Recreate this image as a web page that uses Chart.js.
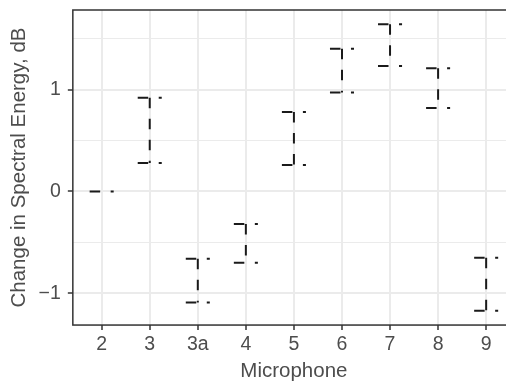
<!DOCTYPE html>
<html>
<head>
<meta charset="utf-8">
<script src="https://cdn.jsdelivr.net/npm/chart.js@4/dist/chart.umd.min.js"></script>
<style>
html, body { margin: 0; padding: 0; background: #fff; overflow: hidden; }
#wrap { width: 516px; height: 383px; position: relative; }
</style>
</head>
<body>
<div id="wrap"><canvas id="errChart"></canvas></div>
<script>
// values
const microphones = ["2", "3", "3a", "4", "5", "6", "7", "8", "9"];
const upper = [0.00, 0.92, -0.66, -0.32, 0.78, 1.40, 1.64, 1.21, -0.65];
const lower = [0.00, 0.28, -1.09, -0.70, 0.26, 0.97, 1.23, 0.82, -1.17];
const yTickValues = [-1, -0.5, 0, 0.5, 1, 1.5];

const FONT = "'Liberation Sans', Arial, sans-serif";

// errorbar: top whisker, stem, bottom whisker (separate subpaths so the dash restarts)
let points = [];
microphones.forEach(function (m, i) {
    points.push({x: i - 0.25, y: upper[i]}, {x: i + 0.25, y: upper[i]}, {x: i, y: null});
    points.push({x: i, y: upper[i]}, {x: i, y: lower[i]}, {x: i, y: null});
    points.push({x: i - 0.25, y: lower[i]}, {x: i + 0.25, y: lower[i]}, {x: i, y: null});
});

const panelBorder = {
    id: 'panelBorder',
    afterDraw(chart) {
        const a = chart.chartArea, ctx = chart.ctx;
        ctx.save();
        ctx.strokeStyle = '#333333';
        ctx.lineWidth = 1.5;
        ctx.strokeRect(a.left, a.top, a.right - a.left, a.bottom - a.top);
        ctx.restore();
    }
};

const isMajor = v => Number.isInteger(v);

new Chart(document.getElementById('errChart'), {
    type: 'line',
    data: {
        datasets: [{
            data: points,
            borderColor: '#1a1a1a',
            borderWidth: 2,
            borderDash: [10.5, 10.5],
            borderCapStyle: 'butt',
            pointRadius: 0,
            tension: 0,
            spanGaps: false,
            fill: false
        }]
    },
    options: {
        responsive: true,
        maintainAspectRatio: false,
        animation: false,
        events: [],
        layout: { padding: { top: 10, right: 1, bottom: 0, left: 0 } },
        plugins: { legend: { display: false }, tooltip: { enabled: false } },
        scales: {
            x: {
                type: 'linear',
                min: -0.6,
                max: 8.6,
                afterBuildTicks: s => { s.ticks = microphones.map((m, i) => ({value: i})); },
                ticks: {
                    callback: v => microphones[v],
                    color: '#4D4D4D',
                    font: { family: FONT, size: 19.5 },
                    padding: 3,
                    maxRotation: 0,
                    autoSkip: false
                },
                grid: { color: '#EBEBEB', lineWidth: 2, tickColor: '#333333', tickLength: 5, tickWidth: 1.5 },
                border: { display: false },
                title: {
                    display: true,
                    text: 'Microphone',
                    color: '#4D4D4D',
                    font: { family: FONT, size: 20.5, lineHeight: 1.1 },
                    padding: { top: 1, bottom: 0 }
                }
            },
            y: {
                min: -1.3105,
                max: 1.7805,
                afterBuildTicks: s => { s.ticks = yTickValues.map(v => ({value: v})); },
                ticks: {
                    callback: v => isMajor(v) ? (v < 0 ? '\u2212' + Math.abs(v) : String(v)) : '',
                    color: '#4D4D4D',
                    font: { family: FONT, size: 19.5, lineHeight: 0.1 },
                    padding: 7
                },
                grid: {
                    color: '#EBEBEB',
                    lineWidth: c => isMajor(c.tick.value) ? 2 : 1,
                    tickColor: c => isMajor(c.tick.value) ? '#333333' : 'rgba(0,0,0,0)',
                    tickLength: 5,
                    tickWidth: 1.5
                },
                border: { display: false },
                title: {
                    display: true,
                    text: 'Change in Spectral Energy, dB',
                    color: '#4D4D4D',
                    font: { family: FONT, size: 20.5 },
                    padding: { top: 7, bottom: 0 }
                }
            }
        }
    },
    plugins: [panelBorder]
});
</script>
</body>
</html>
